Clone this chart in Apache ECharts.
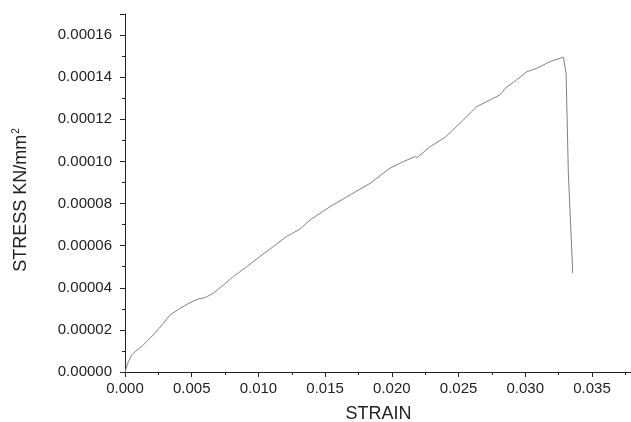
<!DOCTYPE html>
<html>
<head>
<meta charset="utf-8">
<script src="https://cdn.jsdelivr.net/npm/echarts@6/dist/echarts.min.js"></script>
<style>
  html, body { margin: 0; padding: 0; background: #fff; }
  #chart { width: 631px; height: 422px; }
</style>
</head>
<body>
<div id="chart"></div>
<script>
// strain / stress readings taken off the curve
var strain = [0, 0.00025, 0.0005, 0.00075, 0.00137, 0.00212, 0.00287, 0.00337, 0.00412, 0.00487,
  0.0055, 0.006, 0.00662, 0.00737, 0.00812, 0.00912, 0.0101, 0.0111, 0.0121, 0.0131,
  0.01387, 0.01537, 0.01687, 0.01837, 0.01986, 0.02086, 0.02174, 0.0219, 0.02286, 0.0240,
  0.02511, 0.02636, 0.02736, 0.02811, 0.0283, 0.02849, 0.02936, 0.03011, 0.03086, 0.03186,
  0.03286, 0.03306, 0.03323, 0.03356];
var stress = [0, 0.0000049, 0.0000081, 0.0000096, 0.0000128, 0.0000176, 0.0000231, 0.0000271, 0.0000302, 0.0000329,
  0.0000347, 0.0000353, 0.0000374, 0.0000413, 0.0000453, 0.00005, 0.0000548, 0.0000595, 0.0000643, 0.0000678,
  0.0000722, 0.0000785, 0.0000841, 0.0000896, 0.0000968, 0.0000999, 0.0001023, 0.0001018, 0.000107, 0.0001115,
  0.0001181, 0.000126, 0.0001292, 0.0001316, 0.000133, 0.0001347, 0.0001387, 0.0001426, 0.0001442, 0.0001474,
  0.0001495, 0.0001419, 0.0000944, 0.0000469];

var points = strain.map(function (s, i) { return [s, stress[i]]; });

var chart = echarts.init(document.getElementById("chart"));
var fam = "Liberation Sans, Arial, sans-serif";
var axisFont = { fontFamily: fam, fontSize: 15, color: "#222" };
var option = {
  animation: false,
  grid: { left: 125, right: -1, top: 14, bottom: 50, outerBoundsMode: "none" },
  xAxis: {
    type: "value",
    min: 0,
    max: 0.038,
    interval: 0.005,
    name: "STRAIN",
    nameLocation: "middle",
    nameGap: 33,
    nameTextStyle: { fontFamily: fam, fontSize: 18, color: "#222" },
    axisLine: { lineStyle: { color: "#222", width: 1 } },
    axisTick: { inside: false, length: 5, lineStyle: { color: "#222" } },
    minorTick: { show: true, splitNumber: 2, length: 3, lineStyle: { color: "#222" } },
    splitLine: { show: false },
    axisLabel: Object.assign({ margin: 9, showMaxLabel: false,
      formatter: function (v) { return v.toFixed(3); } }, axisFont)
  },
  yAxis: {
    type: "value",
    min: 0,
    max: 0.00017,
    interval: 0.00002,
    name: "STRESS KN/mm{sup|2}",
    nameLocation: "middle",
    nameGap: 94,
    nameTextStyle: {
      fontFamily: fam, fontSize: 18, color: "#222", padding: [0, 14, 0, 0],
      rich: { sup: { fontFamily: fam, fontSize: 10, color: "#222", verticalAlign: "top", padding: [0, 0, 10, 1] } }
    },
    axisLine: { show: true, lineStyle: { color: "#222", width: 1 } },
    axisTick: { show: true, inside: false, length: 5, lineStyle: { color: "#222" } },
    minorTick: { show: true, splitNumber: 2, length: 3, lineStyle: { color: "#222" } },
    splitLine: { show: false },
    axisLabel: Object.assign({ margin: 13, showMaxLabel: false,
      formatter: function (v) { return v.toFixed(5); } }, axisFont)
  },
  series: [
    {
      type: "line",
      data: points,
      showSymbol: false,
      smooth: false,
      lineStyle: { color: "#808080", width: 1 }
    }
  ]
};
chart.setOption(option);
</script>
</body>
</html>
